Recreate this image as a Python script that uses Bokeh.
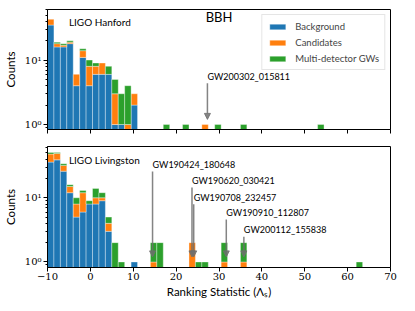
import numpy as np
from bokeh.plotting import figure
from bokeh.layouts import column
from bokeh.models import (Legend, LegendItem, Label, Arrow, NormalHead, Range1d,
                          FixedTicker, CustomJSTickFormatter)
from bokeh.embed import file_html
from bokeh.resources import INLINE

# ---------------- data ----------------
bin_width = 1.5

# LIGO Hanford (bin left edges and stacked counts)
h_left = [-10, -8.5, -7, -5.5, -4, -2.5, -1, 0.5, 2, 3.5, 5, 6.5, 8, 9.5, 17, 21.5, 26, 29, 35, 53]
h_background = [35, 16, 16, 18, 4, 11, 4, 6, 6, 6, 1, 1, 0, 2, 0, 0, 0, 0, 0, 0]
h_candidates = [8, 2, 1, 1, 2, 3, 4, 2, 3, 0, 2, 0, 1, 1, 0, 0, 1, 0, 0, 0]
h_multi = [0, 1, 1, 1, 0, 1, 2, 1, 0, 2, 2, 2, 3, 0, 1, 1, 0, 1, 1, 1]

# LIGO Livingston
l_left = [-10, -8.5, -7, -5.5, -4, -2.5, -1, 0.5, 2, 3.5, 5, 6.5, 9.5, 14, 15.5, 23, 24.5, 26, 30.5, 35, 62]
l_background = [36, 39, 26, 12, 5, 6, 8, 8, 9, 3, 0, 0, 1, 0, 0, 0, 0, 0, 0, 0, 0]
l_candidates = [12, 10, 6, 3, 3, 6, 0, 2, 1, 1, 0, 0, 0, 1, 0, 2, 0, 0, 1, 1, 0]
l_multi = [3, 2, 2, 1, 2, 1, 1, 4, 2, 1, 2, 1, 0, 1, 2, 0, 1, 1, 1, 1, 1]

# annotated events
h_events = ["GW200302_015811"]
h_event_stat = [27.3]
l_events = ["GW190424_180648", "GW190620_030421", "GW190708_232457",
            "GW190910_112807", "GW200112_155838"]
l_event_stat = [14.5, 23.7, 24.1, 31.7, 35.8]

# tick values
x_ticks = [-10, 0, 10, 20, 30, 40, 50, 60, 70]
y_ticks = [1, 10]
y_minor = [0.9, 2, 3, 4, 5, 6, 7, 8, 9, 20, 30, 40, 50, 60]

# annotation layout (label heights in counts)
h_label_y = [5.6]
l_label_y = [33, 18.6, 10.2, 5.9, 3.16]
arrow_tip_y = 1.2

BLUE, ORANGE, GREEN = "#1f77b4", "#ff7f0e", "#2ca02c"
SANS = "Lato"
SERIF = "DejaVu Serif"

x_fmt = CustomJSTickFormatter(code="return tick < 0 ? '\u2212' + Math.abs(tick) : String(tick);")
x_blank = CustomJSTickFormatter(code="return '';")
y_fmt = CustomJSTickFormatter(code="""
const e = Math.round(Math.log10(tick));
const sup = {'0':'\u2070','1':'\u00b9','2':'\u00b2','3':'\u00b3','-':'\u207b'};
return '10' + String(e).split('').map(c => sup[c]).join('');
""")


def make_panel(left, bg, cand, multi, height, ymin, ymax, bt, bb, show_xlabels):
    p = figure(width=400, height=height, y_axis_type="log",
               x_range=Range1d(-10, 70), y_range=Range1d(ymin, ymax),
               output_backend="svg", toolbar_location=None,
               min_border_left=39, min_border_right=10,
               min_border_top=bt, min_border_bottom=bb)
    p.grid.visible = False
    p.outline_line_color = "black"
    p.outline_line_alpha = 1
    p.outline_line_width = 1

    left = np.asarray(left, float)
    b = np.asarray(bg, float)
    c = np.asarray(cand, float)
    g = np.asarray(multi, float)
    floor = 0.05
    xc = left + bin_width / 2
    segs = [
        (b > 0, np.full_like(b, floor), b, BLUE),
        (c > 0, np.where(b > 0, b, floor), b + c, ORANGE),
        (g > 0, np.where(b + c > 0, b + c, floor), b + c + g, GREEN),
    ]
    rends = []
    for m, bot, top, col in segs:
        r = p.vbar(x=xc[m], width=bin_width, bottom=bot[m], top=top[m],
                   fill_color=col, line_color="white", line_alpha=0.35, line_width=1)
        rends.append(r)

    # axes styling
    p.xaxis.ticker = FixedTicker(ticks=x_ticks)
    p.yaxis.ticker = FixedTicker(ticks=y_ticks, minor_ticks=y_minor)
    p.xaxis.formatter = x_fmt if show_xlabels else x_blank
    p.yaxis.formatter = y_fmt
    for ax in (p.xaxis[0], p.yaxis[0]):
        ax.major_tick_out = 4
        ax.major_tick_in = 0
        ax.minor_tick_out = 2
        ax.minor_tick_in = 0
        ax.axis_line_color = "black"
        ax.major_label_text_font = SERIF
        ax.major_label_text_font_size = "10px"
        ax.major_label_text_color = "black"
        ax.major_label_standoff = 2
        ax.axis_label_text_font = SANS
        ax.axis_label_text_font_size = "11.5px"
        ax.axis_label_text_font_style = "normal"
        ax.axis_label_text_color = "black"
    p.xaxis.minor_tick_line_color = None
    p.yaxis.axis_label = "Counts"
    p.yaxis.axis_label_standoff = 5
    if show_xlabels:
        p.xaxis.axis_label = "Ranking Statistic (\u039b\u209b)"
        p.xaxis.axis_label_standoff = 2
        p.xaxis.major_label_standoff = 1
    else:
        p.xaxis.major_label_standoff = 0
    return p, rends


def annotate(p, names, stats, label_y):
    for name, xs, ly in zip(names, stats, label_y):
        p.add_layout(Arrow(end=NormalHead(size=6, fill_color="#6e6e6e", fill_alpha=0.85,
                                          line_color="#6e6e6e", line_alpha=0.85),
                           x_start=xs, y_start=ly * 0.78, x_end=xs, y_end=arrow_tip_y,
                           line_color="#6e6e6e", line_alpha=0.85, line_width=1.5))
        p.add_layout(Label(x=xs, y=ly, text=name, text_font=SANS, text_font_size="9px",
                           text_align="left", text_baseline="middle", text_color="black"))


p1, r1 = make_panel(h_left, h_background, h_candidates, h_multi, 137, 0.836, 61, 9, 8, False)
p2, r2 = make_panel(l_left, l_background, l_candidates, l_multi, 166, 0.82, 63, 9, 36, True)

annotate(p1, h_events, h_event_stat, h_label_y)
annotate(p2, l_events, l_event_stat, l_label_y)

p1.add_layout(Label(x=-5, y=39, text="LIGO Hanford", text_font=SANS, text_font_size="10px",
                    text_baseline="middle", text_color="black"))
p2.add_layout(Label(x=-5, y=39, text="LIGO Livingston", text_font=SANS, text_font_size="10px",
                    text_baseline="middle", text_color="black"))
p1.add_layout(Label(x=30, y=47, text="BBH", text_font=SANS, text_font_size="13px",
                    text_align="center", text_baseline="middle", text_color="black"))

legend = Legend(items=[LegendItem(label="Background", renderers=[r1[0]]),
                       LegendItem(label="Candidates", renderers=[r1[1]]),
                       LegendItem(label="Multi-detector GWs", renderers=[r1[2]])],
                location="top_right")
legend.label_text_font = SANS
legend.label_text_font_size = "9.5px"
legend.glyph_width = 20
legend.glyph_height = 7
legend.label_height = 12
legend.label_standoff = 8
legend.padding = 5
legend.spacing = 4
legend.margin = 5
legend.border_line_color = "#cccccc"
legend.background_fill_alpha = 0.8
p1.add_layout(legend)

layout = column(p1, p2, spacing=0)
open("out.html", "w").write(file_html(layout, INLINE))
